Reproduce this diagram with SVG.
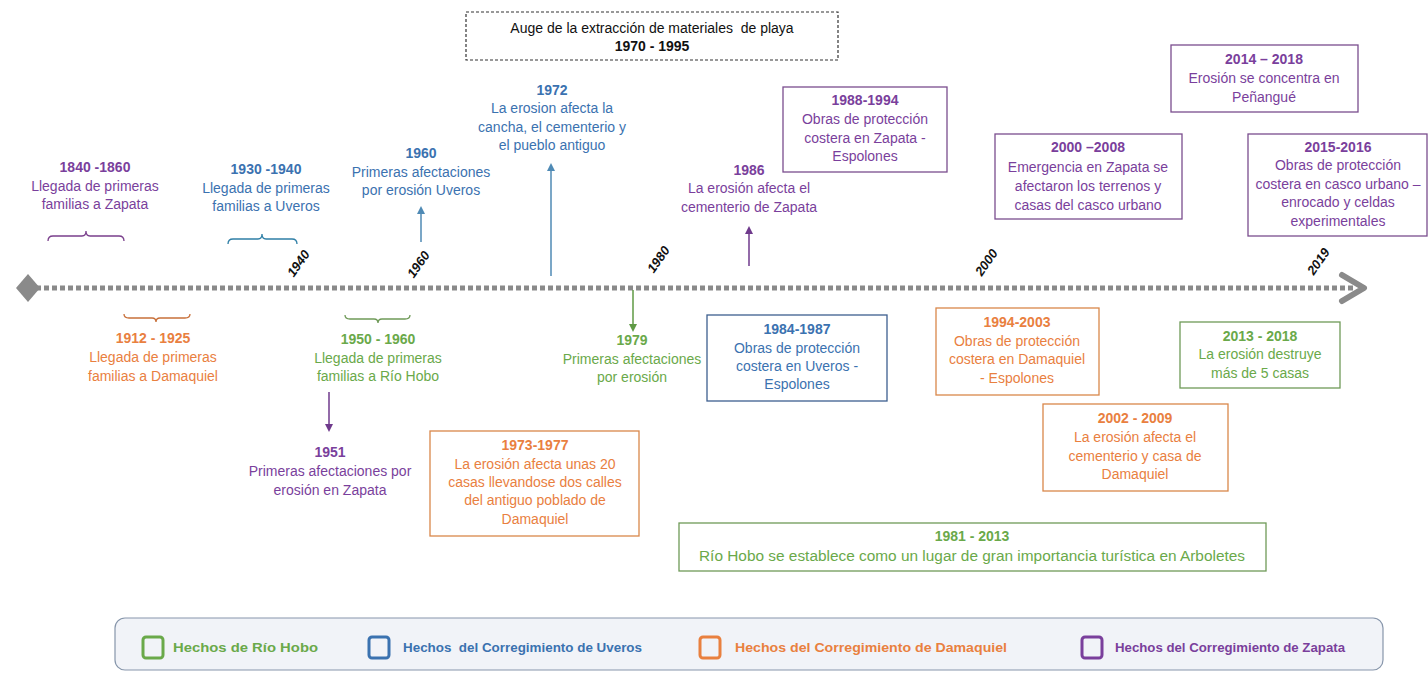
<svg xmlns="http://www.w3.org/2000/svg" width="1428" height="676" viewBox="0 0 1428 676">
<defs>
<style>
text{font-family:"Liberation Sans",Arial,sans-serif;font-size:14px;text-anchor:middle}
.y{font-weight:bold}
.pu{fill:#7a3f9c}.bl{fill:#3b72b0}.or{fill:#e9803f}.gr{fill:#6aa94a}
.bx{fill:#fff;stroke-width:1.3}
.spu{stroke:#7a4d8e}.sbl{stroke:#3d5f8f}.sor{stroke:#d9874a}.sgr{stroke:#6f9a58}
.tick{font-weight:bold;font-style:italic;font-size:13px;fill:#111}
.lg{font-size:12px;font-weight:bold;text-anchor:start}
.br{fill:none;stroke-width:1.3}
</style>
<marker id="apu" markerWidth="8" markerHeight="8" refX="4" refY="4" orient="auto" markerUnits="userSpaceOnUse"><path d="M0,0 L8,4 L0,8 Z" fill="#6f3a8c"/></marker>
<marker id="abl" markerWidth="8" markerHeight="8" refX="4" refY="4" orient="auto" markerUnits="userSpaceOnUse"><path d="M0,0 L8,4 L0,8 Z" fill="#4f8ab5"/></marker>
<marker id="agr" markerWidth="8" markerHeight="8" refX="4" refY="4" orient="auto" markerUnits="userSpaceOnUse"><path d="M0,0 L8,4 L0,8 Z" fill="#5f9a45"/></marker>
</defs>
<rect width="1428" height="676" fill="#fff"/>

<g id="axis">
<line x1="36" y1="288" x2="1356" y2="288" stroke="#8a8a8a" stroke-width="5" stroke-dasharray="5,3"/>
<path d="M28,274 L40,288 L28,302 L16,288 Z" fill="#8a8a8a"/>
<path d="M1342,275 L1364,288 L1342,301" fill="none" stroke="#8a8a8a" stroke-width="6" stroke-linejoin="round" stroke-linecap="round"/>
<text class="tick" transform="translate(302,266) rotate(-55)">1940</text>
<text class="tick" transform="translate(422,267) rotate(-55)">1960</text>
<text class="tick" transform="translate(662,262) rotate(-55)">1980</text>
<text class="tick" transform="translate(990,265) rotate(-55)">2000</text>
<text class="tick" transform="translate(1322,264) rotate(-55)">2019</text>
</g>

<g id="connectors">
<line x1="421" y1="242" x2="421" y2="210" stroke="#4f8ab5" stroke-width="1.5" marker-end="url(#abl)"/>
<line x1="551" y1="276" x2="551" y2="167" stroke="#4f8ab5" stroke-width="1.5" marker-end="url(#abl)"/>
<line x1="749" y1="266" x2="749" y2="230" stroke="#6f3a8c" stroke-width="1.5" marker-end="url(#apu)"/>
<line x1="329" y1="392" x2="329" y2="428" stroke="#6f3a8c" stroke-width="1.5" marker-end="url(#apu)"/>
<line x1="633" y1="290" x2="633" y2="328" stroke="#5f9a45" stroke-width="1.5" marker-end="url(#agr)"/>
<path class="br" stroke="#7a3f8c" d="M48,241 Q48,236 53,236 L82,236 Q86,236 86,231 Q86,236 90,236 L119,236 Q124,236 124,241"/>
<path class="br" stroke="#2f7fa6" d="M228,244 Q228,239 233,239 L258,239 Q262,239 262,234 Q262,239 266,239 L292,239 Q297,239 297,244"/>
<path class="br" stroke="#c8703a" d="M124,314 Q124,318 129,318 L152,318 Q156,318 156,322 Q156,318 160,318 L185,318 Q190,318 190,314"/>
<path class="br" stroke="#6f9a58" d="M345,315 Q345,319 350,319 L374,319 Q378,319 378,323 Q378,319 382,319 L405,319 Q410,319 410,315"/>
</g>

<g id="n-auge">
<rect x="466" y="12" width="372" height="48" fill="#fff" stroke="#333" stroke-width="1.2" stroke-dasharray="3,2"/>
<text x="652" y="33" fill="#111">Auge de la extracción de materiales&#160; de playa</text>
<text x="652" y="51" class="y" fill="#111">1970 - 1995</text>
</g>

<g id="n-1840">
<text x="95" y="172" class="y pu">1840 -1860</text>
<text x="95" y="191" class="pu">Llegada de primeras</text>
<text x="95" y="209" class="pu">familias a Zapata</text>
</g>
<g id="n-1930">
<text x="266" y="174" class="y bl">1930 -1940</text>
<text x="266" y="193" class="bl">Llegada de primeras</text>
<text x="266" y="211" class="bl">familias a Uveros</text>
</g>
<g id="n-1960">
<text x="421" y="158" class="y bl">1960</text>
<text x="421" y="177" class="bl">Primeras afectaciones</text>
<text x="421" y="195" class="bl">por erosión Uveros</text>
</g>
<g id="n-1972">
<text x="552" y="95" class="y bl">1972</text>
<text x="552" y="113" class="bl">La erosion afecta la</text>
<text x="552" y="132" class="bl">cancha, el cementerio y</text>
<text x="552" y="150" class="bl">el pueblo antiguo</text>
</g>
<g id="n-1986">
<text x="749" y="175" class="y pu">1986</text>
<text x="749" y="193" class="pu">La erosión afecta el</text>
<text x="749" y="212" class="pu">cementerio de Zapata</text>
</g>
<g id="n-1988">
<rect x="783" y="87" width="164" height="85" class="bx spu"/>
<text x="865" y="105" class="y pu">1988-1994</text>
<text x="865" y="124" class="pu">Obras de protección</text>
<text x="865" y="143" class="pu">costera en Zapata  -</text>
<text x="865" y="161" class="pu">Espolones</text>
</g>
<g id="n-2000">
<rect x="995" y="134" width="187" height="85" class="bx spu"/>
<text x="1088" y="152" class="y pu">2000 –2008</text>
<text x="1088" y="172" class="pu">Emergencia en Zapata se</text>
<text x="1088" y="191" class="pu">afectaron los terrenos y</text>
<text x="1088" y="210" class="pu">casas del casco urbano</text>
</g>
<g id="n-2014">
<rect x="1171" y="45" width="187" height="67" class="bx spu"/>
<text x="1264" y="64" class="y pu">2014 – 2018</text>
<text x="1264" y="83" class="pu">Erosión se concentra en</text>
<text x="1264" y="102" class="pu">Peñangué</text>
</g>
<g id="n-2015">
<rect x="1248" y="134" width="179" height="102" class="bx spu"/>
<text x="1338" y="152" class="y pu">2015-2016</text>
<text x="1338" y="170" class="pu">Obras de protección</text>
<text x="1338" y="189" class="pu">costera en casco urbano –</text>
<text x="1338" y="207" class="pu">enrocado y celdas</text>
<text x="1338" y="226" class="pu">experimentales</text>
</g>

<g id="n-1912">
<text x="153" y="343" class="y or">1912 - 1925</text>
<text x="153" y="362" class="or">Llegada de primeras</text>
<text x="153" y="381" class="or">familias a Damaquiel</text>
</g>
<g id="n-1950">
<text x="378" y="344" class="y gr">1950 - 1960</text>
<text x="378" y="363" class="gr">Llegada de primeras</text>
<text x="378" y="381" class="gr">familias a Río Hobo</text>
</g>
<g id="n-1951">
<text x="330" y="457" class="y pu">1951</text>
<text x="330" y="476" class="pu">Primeras afectaciones por</text>
<text x="330" y="495" class="pu">erosión en Zapata</text>
</g>
<g id="n-1979">
<text x="632" y="345" class="y gr">1979</text>
<text x="632" y="364" class="gr">Primeras afectaciones</text>
<text x="632" y="382" class="gr">por erosión</text>
</g>
<g id="n-1984">
<rect x="707" y="315" width="180" height="86" class="bx sbl"/>
<text x="797" y="334" class="y bl">1984-1987</text>
<text x="797" y="353" class="bl">Obras de protección</text>
<text x="797" y="371" class="bl">costera en Uveros  -</text>
<text x="797" y="389" class="bl">Espolones</text>
</g>
<g id="n-1973">
<rect x="430" y="431" width="209" height="105" class="bx sor"/>
<text x="535" y="450" class="y or">1973-1977</text>
<text x="535" y="469" class="or">La erosión afecta unas 20</text>
<text x="535" y="487" class="or">casas llevandose dos calles</text>
<text x="535" y="505" class="or">del antiguo poblado de</text>
<text x="535" y="524" class="or">Damaquiel</text>
</g>
<g id="n-1994">
<rect x="936" y="308" width="163" height="87" class="bx sor"/>
<text x="1017" y="327" class="y or">1994-2003</text>
<text x="1017" y="346" class="or">Obras de protección</text>
<text x="1017" y="364" class="or">costera en Damaquiel</text>
<text x="1017" y="383" class="or">- Espolones</text>
</g>
<g id="n-2002">
<rect x="1043" y="404" width="185" height="87" class="bx sor"/>
<text x="1135" y="423" class="y or">2002 - 2009</text>
<text x="1135" y="442" class="or">La erosión afecta el</text>
<text x="1135" y="461" class="or">cementerio y casa de</text>
<text x="1135" y="479" class="or">Damaquiel</text>
</g>
<g id="n-2013">
<rect x="1180" y="322" width="160" height="66" class="bx sgr"/>
<text x="1260" y="341" class="y gr">2013 - 2018</text>
<text x="1260" y="359" class="gr">La erosión destruye</text>
<text x="1260" y="378" class="gr">más de 5 casas</text>
</g>
<g id="n-1981">
<rect x="679" y="523" width="587" height="48" class="bx sgr"/>
<text x="972" y="541" class="y gr">1981 - 2013</text>
<text x="972" y="561" class="gr" textLength="546" lengthAdjust="spacingAndGlyphs">Río Hobo se establece como un lugar de gran importancia turística en Arboletes</text>
</g>

<g id="legend">
<rect x="115" y="618" width="1268" height="52" rx="10" fill="#f1f3f8" stroke="#8796ab" stroke-width="1.2"/>
<rect x="143" y="637" width="20" height="21" rx="3" fill="none" stroke="#6aa94a" stroke-width="3"/>
<text x="173" y="652" class="lg gr" textLength="145" lengthAdjust="spacingAndGlyphs">Hechos de Río Hobo</text>
<rect x="369" y="637" width="20" height="21" rx="3" fill="none" stroke="#3b72b0" stroke-width="3"/>
<text x="403" y="652" class="lg bl" textLength="239" lengthAdjust="spacingAndGlyphs">Hechos&#160; del Corregimiento de Uveros</text>
<rect x="700" y="637" width="20" height="21" rx="3" fill="none" stroke="#e9803f" stroke-width="3"/>
<text x="735" y="652" class="lg or" textLength="272" lengthAdjust="spacingAndGlyphs">Hechos del Corregimiento de Damaquiel</text>
<rect x="1082" y="637" width="20" height="21" rx="3" fill="none" stroke="#7a3f9c" stroke-width="3"/>
<text x="1115" y="652" class="lg pu" textLength="230" lengthAdjust="spacingAndGlyphs">Hechos del Corregimiento de Zapata</text>
</g>
</svg>
